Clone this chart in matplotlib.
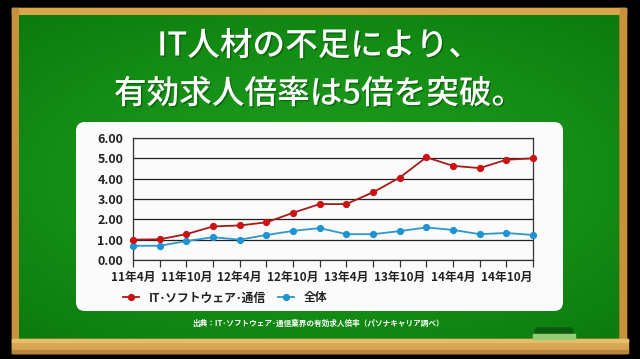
import numpy as np
import matplotlib
matplotlib.use("Agg")
import matplotlib.pyplot as plt
from matplotlib.patches import Rectangle, FancyBboxPatch
import matplotlib.patheffects as pe

plt.rcParams['font.family'] = ['Noto Sans CJK JP', 'DejaVu Sans']

# ---- data ----
periods = ["11年4月", "11年7月", "11年10月", "12年1月", "12年4月", "12年7月", "12年10月", "13年1月",
           "13年4月", "13年7月", "13年10月", "14年1月", "14年4月", "14年7月", "14年10月", "15年1月"]
tick_labels = ["11年4月", "", "11年10月", "", "12年4月", "", "12年10月", "",
               "13年4月", "", "13年10月", "", "14年4月", "", "14年10月", ""]
it_values = [1.00, 1.02, 1.27, 1.65, 1.70, 1.85, 2.32, 2.75, 2.75, 3.33, 4.05, 5.05, 4.63, 4.52, 4.93, 5.00]
all_values = [0.70, 0.70, 0.93, 1.12, 1.00, 1.23, 1.43, 1.57, 1.27, 1.27, 1.42, 1.60, 1.48, 1.27, 1.33, 1.23]
series_names = ["IT･ソフトウェア･通信", "全体"]
y_ticks = [0, 1, 2, 3, 4, 5, 6]

title_lines = ["IT人材の不足により、", "有効求人倍率は5倍を突破。"]
source_text = "出典：IT･ソフトウェア･通信業界の有効求人倍率（パソナキャリア調べ）"

W, H = 640, 359
fig = plt.figure(figsize=(W / 100, H / 100), dpi=100)
fig.patch.set_facecolor("black")

# background axes in pixel coords
bg = fig.add_axes([0, 0, 1, 1])
bg.set_xlim(0, W)
bg.set_ylim(H, 0)
bg.axis("off")

# frame
bg.add_patch(Rectangle((12, 8), 614, 345, color="#a5752c", zorder=1))
bg.add_patch(Rectangle((12, 8), 614, 6, color="#d9a64c", zorder=2))
bg.add_patch(Rectangle((12, 8), 6, 340, color="#c8923c", zorder=2))
bg.add_patch(Rectangle((620, 8), 6, 340, color="#c8923c", zorder=2))

# green board with gradient
gx = np.linspace(-1, 1, 300)
gy = np.linspace(-1, 1, 160)
GX, GY = np.meshgrid(gx, gy)
r = np.clip(np.sqrt((GX * 0.9) ** 2 + (GY * 1.0) ** 2), 0, 1.3)
c_center = np.array([0x1c, 0x9c, 0x1c]) / 255
c_edge = np.array([0x0c, 0x7c, 0x0e]) / 255
t = np.clip(r / 1.3, 0, 1)[..., None] ** 1.5
img = c_center * (1 - t) + c_edge * t
bg.imshow(img, extent=(19, 619, 339, 15), zorder=3, aspect="auto", interpolation="bilinear")

# ledge
bg.add_patch(Rectangle((12, 339), 616, 14, color="#d6a650", zorder=4))
bg.add_patch(Rectangle((12, 339), 616, 3, color="#e6bd6a", zorder=5))
bg.add_patch(Rectangle((12, 350), 616, 3, color="#b8863a", zorder=5))

# eraser
bg.add_patch(FancyBboxPatch((535, 328), 38, 7, boxstyle="round,pad=0,rounding_size=3",
                            color="#0c5a10", zorder=6))
bg.add_patch(Rectangle((533, 334), 42, 5, color="#93cf72", zorder=7))

# white panel
bg.add_patch(FancyBboxPatch((76, 122), 487, 189, boxstyle="round,pad=0,rounding_size=9",
                            facecolor="#fbfbfb", edgecolor="none", zorder=8))

# title
shadow = [pe.withSimplePatchShadow(offset=(1, -1), shadow_rgbFace="#0a4a0a", alpha=0.6)]
bg.text(319, 46, title_lines[0], color="white", fontsize=23.5, fontweight="medium",
        ha="center", va="center", zorder=9, path_effects=shadow)
bg.text(319, 94, title_lines[1], color="white", fontsize=23.5, fontweight="medium",
        ha="center", va="center", zorder=9, path_effects=shadow)

# source
bg.text(318, 323, source_text, color="white", fontsize=5.5, fontweight="bold",
        ha="center", va="center", zorder=9)

# ---- chart ----
left, right, top, bottom = 133, 533, 138, 260
ax = fig.add_axes([left / W, 1 - bottom / H, (right - left) / W, (bottom - top) / H])
ax.set_facecolor("none")
ax.set_zorder(10)
x = np.arange(len(periods))
l1, = ax.plot(x, it_values, color="#a51a16", lw=1.3, marker="o", ms=4.2,
              mfc="#cc1212", mec="#cc1212", label=series_names[0], zorder=4, clip_on=False)
l2, = ax.plot(x, all_values, color="#2c98cc", lw=1.3, marker="o", ms=4.2,
              mfc="#1e93d2", mec="#1e93d2", label=series_names[1], zorder=3, clip_on=False)
ax.set_xlim(0, len(periods) - 1)
ax.set_ylim(0, 6)
ax.set_yticks(y_ticks)
ax.set_yticklabels([f"{v:.2f}" for v in y_ticks])
ax.set_xticks(x)
ax.set_xticklabels(tick_labels)
ax.grid(axis="y", color="#222222", lw=0.9)
ax.set_axisbelow(True)
for s in ["left", "right", "top", "bottom"]:
    ax.spines[s].set_color("#333333")
    ax.spines[s].set_linewidth(0.9)
ax.tick_params(axis="y", length=0, pad=7, labelsize=9, labelcolor="#222222")
ax.tick_params(axis="x", length=5, width=0.9, color="#333333", pad=3, labelsize=8.5,
               labelcolor="#222222")
for lab in ax.get_xticklabels() + ax.get_yticklabels():
    lab.set_fontweight("bold")

leg = fig.legend(handles=[l1, l2], loc="center left", bbox_to_anchor=(112 / W, 1 - 298 / H),
                 ncol=2, frameon=False, handlelength=1.4, handletextpad=0.8, columnspacing=1.0,
                 prop={"size": 8.5, "weight": "bold"})
for txt in leg.get_texts():
    txt.set_color("#222222")
leg.set_zorder(11)

fig.savefig("out.png", dpi=100, facecolor=fig.get_facecolor())
